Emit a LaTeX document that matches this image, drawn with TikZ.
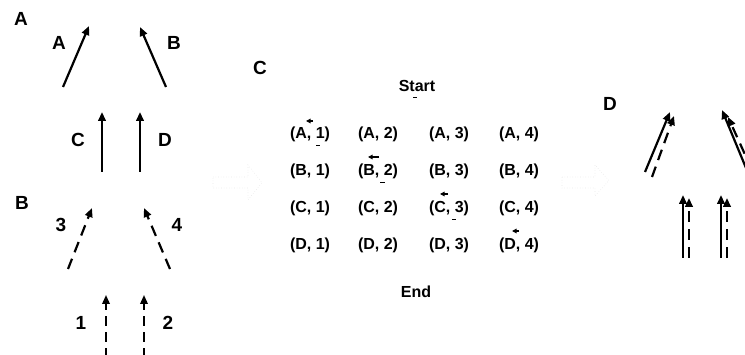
\documentclass[tikz,border=0pt]{standalone}
\usepackage{fontspec}
\setmainfont{Liberation Sans}
\usetikzlibrary{arrows.meta}

\tikzset{
  arr/.style={line width=2.2pt, -{Triangle[length=9pt,width=7.5pt]}},
  darr/.style={arr, dash pattern=on 11pt off 7pt},
  thinarr/.style={line width=1.8pt, -{Triangle[length=9pt,width=7.5pt]}},
  thindarr/.style={thinarr, dash pattern=on 10pt off 6pt},
  panel/.style={font=\fontsize{19}{19}\selectfont\bfseries, inner sep=0pt},
  lbl/.style={font=\fontsize{19}{19}\selectfont\bfseries, inner sep=0pt},
  cell/.style={font=\fontsize{16}{16}\selectfont\bfseries, inner sep=0pt},
  mini/.style={line width=1.2pt, -{Triangle[length=4.5pt,width=4.5pt]}},
  tick/.style={line width=1pt},
  faint/.style={draw=black!9, line width=0.6pt, dotted}
}

\begin{document}
\begin{tikzpicture}[x=1pt, y=-1pt]
\useasboundingbox (0,0) rectangle (745,355);

% ---------------- panel A: solid vectors ----------------
\node[panel] (pA) at (21,19) {A};
\coordinate (a0) at (63,87);  \coordinate (a1) at (89,26);
\coordinate (b0) at (166,87); \coordinate (b1) at (140,27);
\coordinate (c0) at (102,172); \coordinate (c1) at (102,112);
\coordinate (d0) at (140,172); \coordinate (d1) at (140,112);
\draw[arr] (a0) -- (a1);
\draw[arr] (b0) -- (b1);
\draw[arr] (c0) -- (c1);
\draw[arr] (d0) -- (d1);
\node[lbl] (lA) at (59,43) {A};
\node[lbl] (lB) at (174,43) {B};
\node[lbl] (lC) at (78,140) {C};
\node[lbl] (lD) at (165,140) {D};

% ---------------- panel B: dashed vectors ----------------
\node[panel] (pB) at (22,203) {B};
\coordinate (t0) at (68,269);  \coordinate (t1) at (92,208);
\coordinate (f0) at (170,269); \coordinate (f1) at (144,208);
\coordinate (o0) at (106,358); \coordinate (o1) at (106,295);
\coordinate (w0) at (144,358); \coordinate (w1) at (144,295);
\draw[darr] (t0) -- (t1);
\draw[darr] (f0) -- (f1);
\draw[thindarr] (o0) -- (o1);
\draw[thindarr] (w0) -- (w1);
\node[lbl] (l3) at (61,225) {3};
\node[lbl] (l4) at (177,225) {4};
\node[lbl] (l1) at (81,323) {1};
\node[lbl] (l2) at (168,323) {2};

% faint hollow arrows between the panels
\draw[faint] (213,177) -- (248,177) -- (248,165) -- (262,182.5) -- (248,200) -- (248,188) -- (213,188) -- cycle;
\draw[faint] (562,177) -- (595,177) -- (595,165) -- (609,180.5) -- (595,196) -- (595,188) -- (562,188) -- cycle;

% ---------------- panel C: pairing grid ----------------
\node[panel] (pC) at (260,68) {C};
\node[cell] (start) at (417,86) {Start};
\node[cell] (end) at (416,292) {End};
\foreach \r/\y in {A/134, B/171, C/208, D/245} {
  \foreach \c/\x in {1/310, 2/378, 3/449, 4/519} {
    \node[cell] (g\r\c) at (\x,\y) {(\r, \c)};
  }
}
% small markers along the diagonal path
\draw[mini] (313,121) -- (306,121);
\draw[mini] (379,157) -- (368,157);
\draw[mini] (448,194) -- (440,194);
\draw[mini] (519,231) -- (512,231);
\draw[tick] (413,98) -- (417,98);
\draw[tick] (316,146) -- (320,146);
\draw[tick] (380,183) -- (385,183);
\draw[tick] (452,220) -- (456,220);

% ---------------- panel D: combined vectors ----------------
\node[panel] (pD) at (610,104) {D};
\coordinate (p0) at (645,172); \coordinate (p1) at (670,112);
\coordinate (q0) at (652,177); \coordinate (q1) at (674,116);
\coordinate (r0) at (746,168); \coordinate (r1) at (722,110);
\coordinate (s0) at (752,170); \coordinate (s1) at (728,117);
\coordinate (u0) at (683,258); \coordinate (u1) at (683,195);
\coordinate (v0) at (689,258); \coordinate (v1) at (689,198);
\coordinate (m0) at (721,258); \coordinate (m1) at (721,195);
\coordinate (n0) at (727,258); \coordinate (n1) at (727,198);
\draw[arr] (p0) -- (p1);
\draw[darr] (q0) -- (q1);
\draw[arr] (r0) -- (r1);
\draw[darr] (s0) -- (s1);
\draw[arr] (u0) -- (u1);
\draw[darr] (v0) -- (v1);
\draw[arr] (m0) -- (m1);
\draw[darr] (n0) -- (n1);
\end{tikzpicture}
\end{document}
